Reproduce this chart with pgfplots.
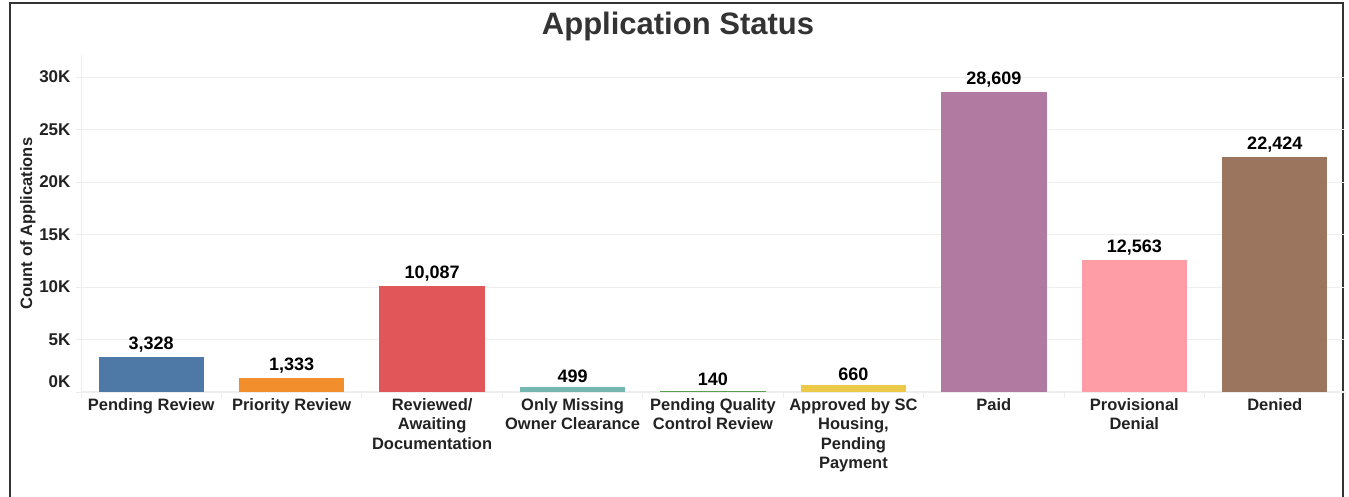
\documentclass[border=0pt]{standalone}
\usepackage{fontspec}
\setmainfont{Liberation Sans}
\usepackage{pgfplots}
\pgfplotsset{compat=1.18}
\definecolor{c1}{HTML}{4E79A7}
\definecolor{c2}{HTML}{F28E2B}
\definecolor{c3}{HTML}{E15759}
\definecolor{c4}{HTML}{76B7B2}
\definecolor{c5}{HTML}{59A14F}
\definecolor{c6}{HTML}{EDC948}
\definecolor{c7}{HTML}{B07AA1}
\definecolor{c8}{HTML}{FF9DA7}
\definecolor{c9}{HTML}{9C755F}
\definecolor{gridc}{HTML}{EEEEEE}
\definecolor{txt}{HTML}{222222}
\begin{document}
\begin{tikzpicture}[x=1pt,y=1pt]
\path[use as bounding box] (0,0) rectangle (1349,497);
\draw[line width=2pt, black!80] (9.5,0) -- (9.5,494) -- (1343,494) -- (1343,0);
\node[font=\fontsize{31}{36}\selectfont\bfseries, text=black!80] at (678,471) {Application Status};
\begin{axis}[
  at={(81pt,105pt)}, anchor=south west,
  scale only axis, width=1264pt, height=337pt,
  xmin=-0.5, xmax=8.5, ymin=0, ymax=32100,
  ybar,
  scaled y ticks=false,
  /pgf/number format/assume math mode=true,
  axis lines*=left,
  axis line style={draw=gridc, line width=1pt},
  ytick={5000,10000,15000,20000,25000,30000},
  yticklabels={5K,10K,15K,20K,25K,30K},
  extra y ticks={0},
  extra y tick labels={0K},
  extra y tick style={grid=major, tick label style={yshift=10pt}},
  ymajorgrids,
  grid style={draw=gridc, line width=0.8pt},
  tick align=outside,
  major tick length=5pt,
  minor tick length=6pt,
  tick style={draw=gridc, line width=0.8pt},
  xtick={0,1,2,3,4,5,6,7,8},
  major x tick style={draw=none},
  minor xtick={-0.5,0.5,1.5,2.5,3.5,4.5,5.5,6.5,7.5,8.5},
  xticklabels={{Pending Review}, {Priority Review}, {Reviewed/\\Awaiting\\Documentation}, {Only Missing\\Owner Clearance}, {Pending Quality\\Control Review}, {Approved by SC\\Housing,\\Pending\\Payment}, {Paid}, {Provisional\\Denial}, {Denied}},
  xticklabel style={font=\fontsize{16.5}{19.5}\selectfont\bfseries, text=txt, align=center, yshift=2pt},
  yticklabel style={font=\fontsize{17}{20}\selectfont\bfseries, text=txt, xshift=-2pt},
  ylabel={Count of Applications},
  ylabel style={font=\fontsize{16.5}{20}\selectfont\bfseries, text=txt, at={(axis description cs:-0.042,0.5)}, anchor=center, rotate=0},
  nodes near coords={\pgfmathprintnumber[fixed,precision=0,1000 sep={,}]{\pgfplotspointmeta}},
  every node near coord/.append style={font=\fontsize{18}{21}\selectfont\bfseries, text=black, yshift=1pt},
  clip=false,
]
\addplot[fill=c1, draw=none, bar width=0.75, bar shift=0pt] coordinates {(0,3328)};
\addplot[fill=c2, draw=none, bar width=0.75, bar shift=0pt] coordinates {(1,1333)};
\addplot[fill=c3, draw=none, bar width=0.75, bar shift=0pt] coordinates {(2,10087)};
\addplot[fill=c4, draw=none, bar width=0.75, bar shift=0pt] coordinates {(3,499)};
\addplot[fill=c5, draw=none, bar width=0.75, bar shift=0pt] coordinates {(4,140)};
\addplot[fill=c6, draw=none, bar width=0.75, bar shift=0pt] coordinates {(5,660)};
\addplot[fill=c7, draw=none, bar width=0.75, bar shift=0pt] coordinates {(6,28609)};
\addplot[fill=c8, draw=none, bar width=0.75, bar shift=0pt] coordinates {(7,12563)};
\addplot[fill=c9, draw=none, bar width=0.75, bar shift=0pt] coordinates {(8,22424)};
\end{axis}
\end{tikzpicture}
\end{document}
